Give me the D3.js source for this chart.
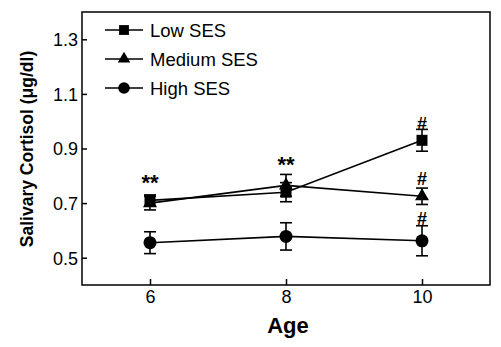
<!DOCTYPE html>
<html>
<head>
<meta charset="utf-8">
<style>
  body { margin: 0; background: #fff; }
  svg { font-family: "Liberation Sans", Arial, sans-serif; }
  .axis text { font-size: 18px; fill: #000; }
  .axis line { stroke: #000; stroke-width: 1.5px; }
  .series { fill: none; stroke: #000; stroke-width: 1.6px; }
  .err { stroke: #000; stroke-width: 1.6px; }
</style>
<script src="https://cdn.jsdelivr.net/npm/d3@7"></script>
</head>
<body>
<script>
// data
const ages = [6, 8, 10];
const lowSES = [0.71, 0.74, 0.93];
const lowErr = [0.02, 0.035, 0.04];
const medSES = [0.70, 0.765, 0.725];
const medErr = [0.025, 0.04, 0.03];
const highSES = [0.555, 0.578, 0.562];
const highErr = [0.04, 0.05, 0.055];
const seriesNames = ["Low SES", "Medium SES", "High SES"];
const yTicks = [0.5, 0.7, 0.9, 1.1, 1.3];
const xTicks = [6, 8, 10];
// significance marks (age, level, label)
const markAges = [6, 8, 10, 10, 10];
const markLevels = [0.795, 0.86, 0.99, 0.79, 0.645];
const markLabels = ["**", "**", "#", "#", "#"];

const W = 501, H = 347;
const mLeft = 82, mRight = 490, mTop = 12, mBottom = 285;

const svg = d3.select("body").append("svg")
  .attr("width", W).attr("height", H);

const x = d3.scaleLinear().domain([5, 11]).range([mLeft, mRight]);
const y = d3.scaleLinear().domain([0.4, 1.4]).range([mBottom, mTop]);

// frame
svg.append("rect")
  .attr("x", mLeft).attr("y", mTop)
  .attr("width", mRight - mLeft).attr("height", mBottom - mTop)
  .attr("fill", "none").attr("stroke", "#000").attr("stroke-width", 1.5);

const xAxis = svg.append("g").attr("class", "axis")
  .attr("transform", "translate(0," + mBottom + ")")
  .call(d3.axisBottom(x).tickValues(xTicks).tickSize(-6).tickPadding(5).tickFormat(d3.format("d")));
xAxis.select(".domain").remove();

const yAxis = svg.append("g").attr("class", "axis")
  .attr("transform", "translate(" + mLeft + ",0)")
  .call(d3.axisLeft(y).tickValues(yTicks).tickSize(-5).tickPadding(4).tickFormat(d3.format(".1f")));
yAxis.select(".domain").remove();
yAxis.selectAll("text").attr("dy", "0.36em");

// axis titles
svg.append("text")
  .attr("x", 288).attr("y", 333)
  .attr("text-anchor", "middle")
  .attr("font-weight", "bold").attr("font-size", 22)
  .text("Age");

svg.append("text")
  .attr("transform", "rotate(-90)")
  .attr("x", -149).attr("y", 33)
  .attr("text-anchor", "middle")
  .attr("font-weight", "bold").attr("font-size", 17.5)
  .text("Salivary Cortisol (\u03BCg/dl)");

const series = [
  { name: seriesNames[0], vals: lowSES, errs: lowErr, sym: d3.symbolSquare, size: 121 },
  { name: seriesNames[1], vals: medSES, errs: medErr, sym: d3.symbolTriangle, size: 85 },
  { name: seriesNames[2], vals: highSES, errs: highErr, sym: d3.symbolCircle, size: 133 }
];

const line = d3.line().x((d, i) => x(ages[i])).y(d => y(d));

series.forEach(s => {
  svg.append("path").attr("class", "series").attr("d", line(s.vals));
});

const capW = 6;
series.forEach(s => {
  const g = svg.append("g");
  s.vals.forEach((v, i) => {
    const cx = x(ages[i]);
    const hi = y(v + s.errs[i]), lo = y(v - s.errs[i]);
    g.append("line").attr("class", "err").attr("x1", cx).attr("x2", cx).attr("y1", hi).attr("y2", lo);
    g.append("line").attr("class", "err").attr("x1", cx - capW).attr("x2", cx + capW).attr("y1", hi).attr("y2", hi);
    g.append("line").attr("class", "err").attr("x1", cx - capW).attr("x2", cx + capW).attr("y1", lo).attr("y2", lo);
  });
});

series.forEach(s => {
  svg.selectAll(null).data(s.vals).join("path")
    .attr("transform", (d, i) => "translate(" + x(ages[i]) + "," + y(d) + ")")
    .attr("d", d3.symbol().type(s.sym).size(s.size))
    .attr("fill", "#000");
});

// significance marks
svg.selectAll(null).data(markLabels).join("text")
  .attr("x", (d, i) => x(markAges[i]))
  .attr("y", (d, i) => y(markLevels[i]))
  .attr("text-anchor", "middle")
  .attr("font-size", d => d === "#" ? 18 : 22)
  .attr("font-weight", "bold")
  .attr("dy", d => d === "#" ? "0.36em" : "0.57em")
  .text(d => d);

// legend
const legY = [30, 59, 88];
series.forEach((s, i) => {
  const g = svg.append("g").attr("transform", "translate(0," + legY[i] + ")");
  g.append("line").attr("x1", 105).attr("x2", 143).attr("stroke", "#000").attr("stroke-width", 1.6);
  g.append("path").attr("transform", "translate(124,0)")
    .attr("d", d3.symbol().type(s.sym).size(s.size * 0.8)).attr("fill", "#000");
  g.append("text").attr("x", 150).attr("dy", "0.36em").attr("font-size", 18.5).text(s.name);
});
</script>
</body>
</html>
